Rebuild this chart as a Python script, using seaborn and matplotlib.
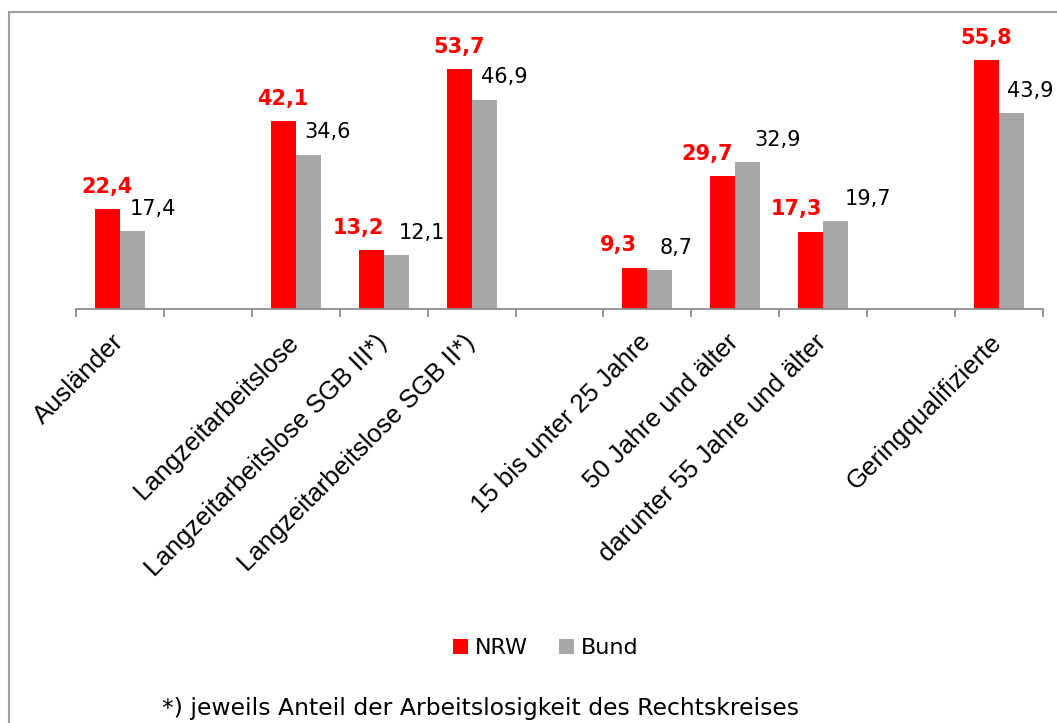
import matplotlib
matplotlib.use("Agg")
import matplotlib.pyplot as plt
import matplotlib.transforms as mtransforms
import seaborn as sns
import pandas as pd
from matplotlib.patches import Rectangle

# ---- data ----
categories = ["Ausländer", " ", "Langzeitarbeitslose", "Langzeitarbeitslose SGB III*)",
              "Langzeitarbeitslose SGB II*)", "  ", "15 bis unter 25 Jahre",
              "50 Jahre und älter", "darunter 55 Jahre und älter", "   ",
              "Geringqualifizierte"]
present = ["Ausländer", "Langzeitarbeitslose", "Langzeitarbeitslose SGB III*)",
           "Langzeitarbeitslose SGB II*)", "15 bis unter 25 Jahre",
           "50 Jahre und älter", "darunter 55 Jahre und älter", "Geringqualifizierte"]
nrw = [22.4, 42.1, 13.2, 53.7, 9.3, 29.7, 17.3, 55.8]
bund = [17.4, 34.6, 12.1, 46.9, 8.7, 32.9, 19.7, 43.9]
series = ["NRW", "Bund"]
footnote = "*) jeweils Anteil der Arbeitslosigkeit des Rechtskreises"

# horizontal nudges of the value labels (pixels, layout only)
nrw_label_dx = [0, 0, -13, 0, -17, -16, -14, 0]
bund_label_dx = [20, 19, 26, 20, 16, 30, 32, 19]

df = pd.DataFrame({
    "Kategorie": present * 2,
    "Wert": nrw + bund,
    "Gebiet": ["NRW"] * len(nrw) + ["Bund"] * len(bund),
})

sns.set_theme(style="white")
plt.rcParams.update({"text.color": "black", "axes.labelcolor": "black",
                     "xtick.color": "black", "ytick.color": "black"})
W, H = 1057, 723
fig = plt.figure(figsize=(W / 100, H / 100), dpi=100)
ax = fig.add_axes([76 / W, 1 - 309 / H, (1043 - 76) / W, (309 - 41.3) / H])

sns.barplot(data=df, x="Kategorie", y="Wert", hue="Gebiet", order=categories,
            hue_order=series, palette=["#FF0000", "#A6A6A6"], width=0.57,
            saturation=1, linewidth=0, errorbar=None, ax=ax, legend=True)

ax.set_xlim(-0.5, len(categories) - 0.5)
ax.set_ylim(0, 60)
ax.set_xlabel("")
ax.set_ylabel("")
ax.set_yticks([])
for s in ["top", "right", "left"]:
    ax.spines[s].set_visible(False)
ax.spines["bottom"].set_color("#8C8C8C")
ax.spines["bottom"].set_linewidth(1.3)

# category labels at slot centres, tick marks at slot boundaries
ax.set_xticks(range(len(categories)))
ax.set_xticklabels(categories, rotation=45, ha="right", va="top",
                   rotation_mode="anchor", family="Liberation Sans", fontsize=18.5,
                   color="black")
ax.tick_params(axis="x", which="major", length=0, pad=15, labelcolor="black")
shift = mtransforms.ScaledTranslation(-9 / 100, 0, fig.dpi_scale_trans)
for lbl in ax.get_xticklabels():
    lbl.set_transform(lbl.get_transform() + shift)
ax.set_xticks([i - 0.5 for i in range(len(categories) + 1)], minor=True)
ax.tick_params(axis="x", which="minor", length=6, width=1.3, color="#8C8C8C",
               direction="out", bottom=True)

# value labels
red_c, gray_c = ax.containers[0], ax.containers[1]
red_bars = [b for b in red_c if b.get_height() > 0]
gray_bars = [b for b in gray_c if b.get_height() > 0]
for bar, dx in zip(red_bars, nrw_label_dx):
    h = bar.get_height()
    ax.annotate(f"{h:.1f}".replace(".", ","),
                (bar.get_x() + bar.get_width() / 2, h),
                xytext=(dx, 16.5), textcoords="offset pixels",
                ha="center", va="baseline", color="#FF0000",
                fontsize=15, fontweight="bold", family="DejaVu Sans")
for bar, dx in zip(gray_bars, bund_label_dx):
    h = bar.get_height()
    ax.annotate(f"{h:.1f}".replace(".", ","),
                (bar.get_x() + bar.get_width() / 2, h),
                xytext=(dx, 16.5), textcoords="offset pixels",
                ha="center", va="baseline", color="black",
                fontsize=15, family="DejaVu Sans")

# legend
handles, labels = ax.get_legend_handles_labels()
leg = ax.legend(handles, labels, loc="center", bbox_to_anchor=(546 / W, 1 - 648 / H),
                bbox_transform=fig.transFigure, ncol=2, frameon=False,
                prop={"family": "DejaVu Sans", "size": 16},
                handlelength=0.68, handleheight=0.68, handletextpad=0.3,
                columnspacing=1.4)
for t in leg.get_texts():
    t.set_color("black")

# footnote
fig.text(480 / W, 1 - 715 / H, footnote, ha="center", va="baseline",
         family="DejaVu Sans", fontsize=16.9, color="black")

# outer frame
fig.patches.append(Rectangle((9 / W, -0.2), 1.2, 1 - 12 / H + 0.2,
                             transform=fig.transFigure, fill=False,
                             edgecolor="#A0A0A0", linewidth=1.5))

fig.savefig("out.png", dpi=100)
